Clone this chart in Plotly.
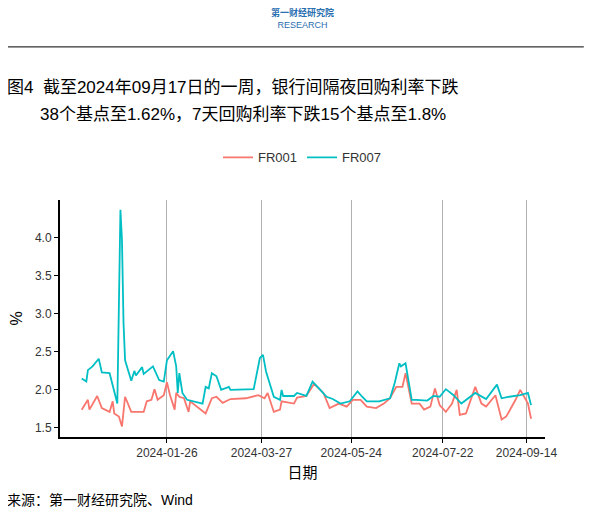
import plotly.graph_objects as go

fr007_dates = ["2023-12-02", "2023-12-05", "2023-12-06", "2023-12-09", "2023-12-13", "2023-12-15",
               "2023-12-20", "2023-12-25", "2023-12-26", "2023-12-27", "2023-12-28", "2023-12-29",
               "2023-12-30", "2024-01-03", "2024-01-05", "2024-01-06", "2024-01-10", "2024-01-11",
               "2024-01-17", "2024-01-21", "2024-01-24", "2024-01-26", "2024-01-30", "2024-02-01",
               "2024-02-02", "2024-02-03", "2024-02-05", "2024-02-08", "2024-02-18", "2024-02-20",
               "2024-02-22", "2024-02-24", "2024-02-27", "2024-03-01", "2024-03-06", "2024-03-07",
               "2024-03-22", "2024-03-26", "2024-03-28", "2024-03-30", "2024-04-04", "2024-04-08",
               "2024-04-09", "2024-04-10", "2024-04-17", "2024-04-19", "2024-04-25", "2024-04-29",
               "2024-05-04", "2024-05-08", "2024-05-12", "2024-05-17", "2024-05-23", "2024-05-28",
               "2024-05-31", "2024-06-03", "2024-06-11", "2024-06-18", "2024-06-21", "2024-06-24",
               "2024-06-25", "2024-06-28", "2024-07-02", "2024-07-05", "2024-07-12", "2024-07-16",
               "2024-07-20", "2024-07-24", "2024-07-29", "2024-08-03", "2024-08-12", "2024-08-19",
               "2024-08-26", "2024-08-29", "2024-09-03", "2024-09-10", "2024-09-15", "2024-09-17"]
fr007 = [2.15, 2.11, 2.26, 2.31, 2.41, 2.23, 2.22, 1.82, 3.10, 4.37, 3.97, 2.88,
         2.39, 2.12, 2.25, 2.19, 2.30, 2.21, 2.31, 2.13, 2.11, 2.39, 2.51, 2.31,
         1.96, 2.22, 1.96, 1.87, 1.82, 2.04, 2.02, 2.22, 2.18, 2.00, 2.04, 2.00,
         2.01, 2.42, 2.46, 2.24, 1.91, 1.87, 2.00, 1.92, 1.92, 1.96, 1.92, 2.11,
         2.00, 1.91, 1.88, 1.82, 1.85, 1.98, 1.91, 1.85, 1.85, 1.89, 2.09, 2.35,
         2.31, 2.35, 1.87, 1.87, 1.86, 1.92, 1.91, 2.01, 1.93, 1.82, 1.96, 1.88,
         2.07, 1.89, 1.91, 1.93, 1.96, 1.80]

fr001_dates = ["2023-12-02", "2023-12-06", "2023-12-07", "2023-12-12", "2023-12-15", "2023-12-20",
               "2023-12-22", "2023-12-23", "2023-12-26", "2023-12-28", "2023-12-30", "2024-01-03",
               "2024-01-11", "2024-01-13", "2024-01-16", "2024-01-18", "2024-01-20", "2024-01-24",
               "2024-01-26", "2024-01-28", "2024-01-31", "2024-02-01", "2024-02-03", "2024-02-06",
               "2024-02-09", "2024-02-10", "2024-02-20", "2024-02-24", "2024-02-27", "2024-03-02",
               "2024-03-07", "2024-03-17", "2024-03-25", "2024-03-29", "2024-03-31", "2024-04-04",
               "2024-04-08", "2024-04-09", "2024-04-17", "2024-04-19", "2024-04-25", "2024-04-30",
               "2024-05-06", "2024-05-10", "2024-05-16", "2024-05-21", "2024-05-25", "2024-05-30",
               "2024-06-03", "2024-06-09", "2024-06-14", "2024-06-18", "2024-06-22", "2024-06-26",
               "2024-06-28", "2024-07-02", "2024-07-07", "2024-07-10", "2024-07-14", "2024-07-17",
               "2024-07-20", "2024-07-24", "2024-07-28", "2024-07-31", "2024-08-02", "2024-08-06",
               "2024-08-12", "2024-08-16", "2024-08-19", "2024-08-25", "2024-08-29", "2024-09-01",
               "2024-09-07", "2024-09-10", "2024-09-15", "2024-09-17"]
fr001 = [1.74, 1.87, 1.74, 1.92, 1.76, 1.71, 1.85, 1.69, 1.65, 1.52, 1.91, 1.71,
         1.71, 1.85, 1.87, 2.01, 1.87, 1.93, 2.10, 1.93, 1.74, 1.96, 1.91, 1.89,
         1.71, 1.85, 1.69, 1.89, 1.91, 1.83, 1.88, 1.89, 1.93, 1.89, 1.96, 1.71,
         1.74, 1.85, 1.82, 1.90, 1.92, 2.08, 1.96, 1.76, 1.82, 1.78, 1.87, 1.87,
         1.78, 1.76, 1.82, 1.89, 2.04, 2.04, 2.22, 1.82, 1.82, 1.74, 1.78, 2.02,
         1.80, 1.71, 1.82, 2.00, 1.67, 1.69, 2.04, 1.82, 1.78, 1.93, 1.61, 1.65,
         1.87, 2.00, 1.82, 1.62]

tick_dates = ["2024-01-26", "2024-03-27", "2024-05-24", "2024-07-22", "2024-09-14"]

font = "Liberation Sans, Noto Sans CJK SC, Arial"

fig = go.Figure()
fig.add_trace(go.Scatter(x=fr001_dates, y=fr001, mode="lines", name="FR001",
                         line=dict(color="#F8766D", width=1.8)))
fig.add_trace(go.Scatter(x=fr007_dates, y=fr007, mode="lines", name="FR007",
                         line=dict(color="#00BFC4", width=1.8)))

# page has an 8px body margin, so margins are shifted to compensate
fig.update_layout(
    width=602, height=522,
    margin=dict(l=52, r=65, t=192, b=93, autoexpand=False),
    plot_bgcolor="white", paper_bgcolor="white",
    font=dict(family=font, color="#333333", size=12),
    legend=dict(orientation="h", x=0.5, xanchor="center", y=1.18, yanchor="middle",
                font=dict(size=13, color="#333333")),
    xaxis=dict(range=["2023-11-18", "2024-09-26"], tickvals=tick_dates, ticktext=tick_dates,
               showgrid=True, gridcolor="#b0b0b0", gridwidth=1,
               showline=True, linecolor="black", linewidth=2,
               ticks="outside", ticklen=4, tickcolor="black",
               tickfont=dict(size=12, color="#333333"),
               title=dict(text="日期", font=dict(size=15, color="black"), standoff=8),
               zeroline=False),
    yaxis=dict(range=[1.38, 4.5], tickvals=[1.5, 2.0, 2.5, 3.0, 3.5, 4.0],
               ticktext=["1.5", "2.0", "2.5", "3.0", "3.5", "4.0"],
               showgrid=False, showline=True, linecolor="black", linewidth=2,
               ticks="outside", ticklen=4, tickcolor="black",
               tickfont=dict(size=12, color="#333333"),
               title=dict(text="%", font=dict(size=16, color="black"), standoff=10),
               zeroline=False),
)

# header: logo text, rule, title lines, source
fig.add_annotation(xref="paper", yref="paper", x=0.5, y=1.765, yanchor="middle",
                   text="<b>第一财经研究院</b><br>RESEARCH", showarrow=False,
                   font=dict(size=9, color="#2a6fb0"))
fig.add_shape(type="line", xref="paper", yref="paper", x0=-0.113, x1=1.08, y0=1.646, y1=1.646,
              line=dict(color="black", width=1))
fig.add_annotation(xref="paper", yref="paper", x=-0.113, xanchor="left", y=1.473, yanchor="middle",
                   text="图4  截至2024年09月17日的一周，银行间隔夜回购利率下跌", showarrow=False,
                   font=dict(size=17, color="black"))
fig.add_annotation(xref="paper", yref="paper", x=-0.046, xanchor="left", y=1.359, yanchor="middle",
                   text="38个基点至1.62%，7天回购利率下跌15个基点至1.8%", showarrow=False,
                   font=dict(size=17, color="black"))
fig.add_annotation(xref="paper", yref="paper", x=-0.113, xanchor="left", y=-0.266, yanchor="middle",
                   text="来源：第一财经研究院、Wind", showarrow=False,
                   font=dict(size=14, color="black"))

fig.write_html("out.html")
